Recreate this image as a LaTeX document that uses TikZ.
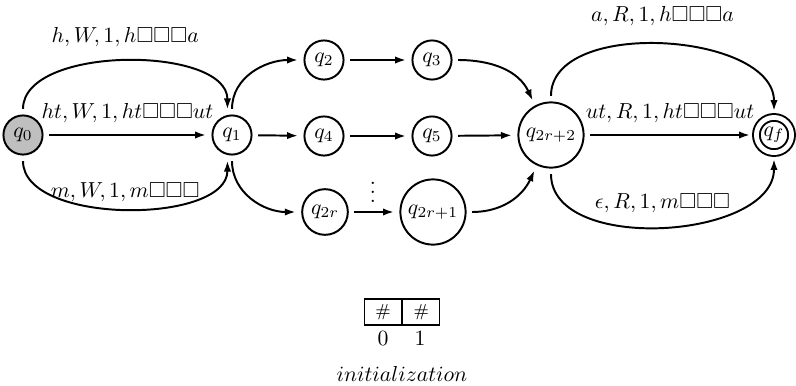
\documentclass[tikz,border=0pt]{standalone}
\usepackage{amssymb}
\usetikzlibrary{arrows.meta}
\begin{document}
\begin{tikzpicture}[x=0.46pt,y=0.46pt,
  state/.style={circle,draw,line width=0.9pt,inner sep=1.5pt,minimum size=18pt,outer sep=3pt},
  bigstate/.style={state,minimum size=30pt},
  startstate/.style={state,fill=gray!50},
  accstate/.style={state,double,double distance=2.2pt,minimum size=14pt},
  trans/.style={line width=0.9pt,-{Latex[length=5pt,width=3.4pt]}},
  lab/.style={inner sep=0pt},
  cell/.style={draw,line width=0.6pt,minimum width=17pt,minimum height=12pt,inner sep=0pt,font=\footnotesize}
]
\useasboundingbox (0,0) rectangle (796,-386);

\node[startstate] (q0) at (23,-135) {$q_0$};
\node[state] (q1) at (232,-135) {$q_1$};
\node[state] (q2) at (324,-60) {$q_2$};
\node[state] (q3) at (432,-60) {$q_3$};
\node[state] (q4) at (324,-136) {$q_4$};
\node[state] (q5) at (432,-136) {$q_5$};
\node[state,minimum size=21pt] (q2r) at (325,-212) {$q_{2r}$};
\node[bigstate] (q2r1) at (433,-212) {$q_{2r+1}$};
\node[bigstate] (q2r2) at (551,-135) {$q_{2r+2}$};
\node[accstate] (qf) at (774,-135) {$q_f$};
\node[lab] (dots) at (373,-186) {$\vdots$};

\draw[trans] (q0.north) to[out=90,in=90,looseness=0.8]
  node[lab,midway,above=6pt] {$h,W,1,h\Box\Box\Box a$} (q1.100);
\draw[trans] (q0) -- node[lab,midway,above=5pt] {$ht,W,1,ht\Box\Box\Box ut$} (q1);
\draw[trans] (q0.south) to[out=-90,in=-90,looseness=0.8]
  node[lab,midway,above=3pt] {$m,W,1,m\Box\Box\Box$} (q1.260);

\draw[trans] (q1.north) to[out=90,in=180] (q2);
\draw[trans] (q1) -- (q4);
\draw[trans] (q1.south) to[out=-90,in=180] (q2r);
\draw[trans] (q2) -- (q3);
\draw[trans] (q4) -- (q5);
\draw[trans] (q2r) -- (q2r1);
\draw[trans] (q3.east) to[out=0,in=115] (q2r2.118);
\draw[trans] (q5) -- (q2r2);
\draw[trans] (q2r1.east) to[out=0,in=245] (q2r2.245);

\draw[trans] (q2r2.north) to[out=90,in=90,looseness=0.9]
  node[lab,midway,above=8pt] {$a,R,1,h\Box\Box\Box a$} (qf.north);
\draw[trans] (q2r2) -- node[lab,midway,above=5pt] {$ut,R,1,ht\Box\Box\Box ut$} (qf);
\draw[trans] (q2r2.south) to[out=-90,in=-90,looseness=0.92]
  node[lab,midway,above=6pt] {$\epsilon,R,1,m\Box\Box\Box$} (qf.south);

\node[cell] (c0) at (383,-312) {\#};
\node[cell,anchor=west] (c1) at (c0.east) {\#};
\node[lab] (n0) at (383,-338) {$0$};
\node[lab] (n1) at (420,-338) {$1$};
\node[lab] (init) at (402,-374) {$initialization$};
\end{tikzpicture}
\end{document}
